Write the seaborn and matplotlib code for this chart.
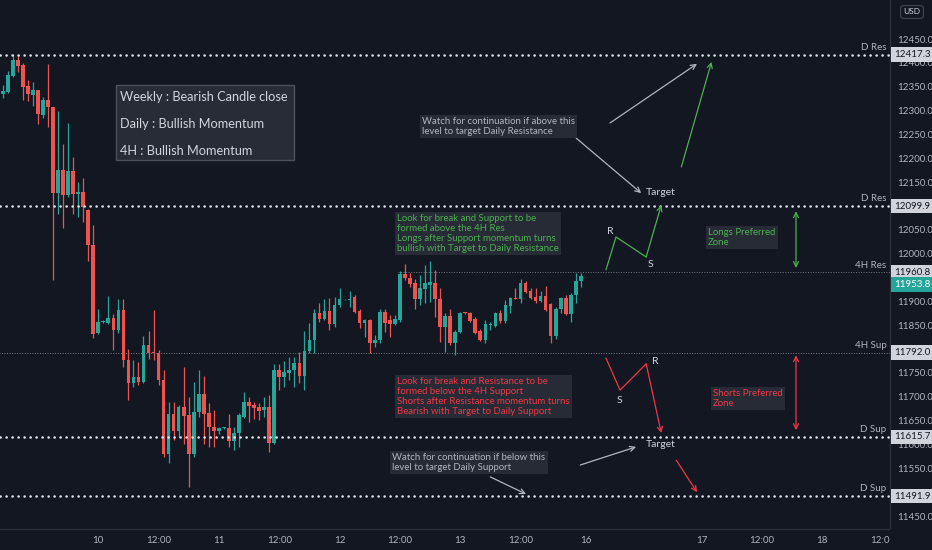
import numpy as np
import pandas as pd
import matplotlib
matplotlib.use('Agg')
import matplotlib.pyplot as plt
import seaborn as sns
from matplotlib.patches import Rectangle

# hourly candles
opens = [12335, 12339, 12372, 12407, 12395, 12351, 12333, 12343, 12291, 12322,
         12308, 12127, 12175, 12123, 12174, 12125, 12130, 12091, 12018, 11834,
         11856, 11855, 11866, 11840, 11882, 11777, 11729, 11741, 11732, 11808,
         11794, 11792, 11735, 11580, 11664, 11629, 11679, 11662, 11580, 11669,
         11706, 11665, 11637, 11629, 11634, 11634, 11608, 11625, 11658, 11690,
         11683, 11678, 11672, 11678, 11604, 11757, 11742, 11749, 11757, 11771,
         11743, 11796, 11819, 11875, 11864, 11880, 11853, 11892, 11904, 11903,
         11910, 11880, 11855, 11860, 11813, 11818, 11878, 11860, 11852, 11860,
         11957, 11950, 11939, 11904, 11925, 11935, 11939, 11906, 11847, 11869,
         11813, 11836, 11876, 11875, 11864, 11838, 11820, 11850, 11848, 11876,
         11859, 11890, 11908, 11904, 11939, 11922, 11910, 11901, 11911, 11894,
         11827, 11883, 11908, 11873, 11913, 11943]
highs = [12353, 12384, 12419, 12416, 12399, 12364, 12359, 12344, 12329, 12398,
         12308, 12299, 12230, 12273, 12202, 12151, 12158, 12093, 12060, 11883,
         11860, 11911, 11874, 11904, 11904, 11801, 11777, 11773, 11827, 11838,
         11882, 11798, 11757, 11690, 11690, 11683, 11763, 11700, 11732, 11756,
         11743, 11686, 11672, 11636, 11636, 11664, 11637, 11665, 11711, 11699,
         11690, 11686, 11700, 11704, 11769, 11769, 11776, 11783, 11784, 11794,
         11838, 11854, 11883, 11897, 11904, 11908, 11910, 11927, 11906, 11922,
         11913, 11885, 11864, 11864, 11829, 11885, 11885, 11871, 11871, 11964,
         11978, 11959, 11946, 11955, 11976, 11985, 11966, 11927, 11875, 11885,
         11840, 11878, 11877, 11878, 11868, 11843, 11861, 11857, 11878, 11882,
         11903, 11910, 11927, 11946, 11943, 11929, 11927, 11922, 11932, 11896,
         11889, 11910, 11913, 11917, 11960, 11959]
lows = [12326, 12337, 12371, 12381, 12322, 12321, 12309, 12272, 12284, 12265,
        11945, 12083, 12053, 12119, 12084, 12077, 12067, 11985, 11824, 11831,
        11855, 11853, 11799, 11833, 11763, 11694, 11721, 11725, 11728, 11780,
        11777, 11724, 11574, 11562, 11609, 11616, 11602, 11511, 11573, 11658,
        11602, 11595, 11595, 11623, 11632, 11595, 11588, 11595, 11655, 11648,
        11653, 11651, 11658, 11585, 11601, 11715, 11721, 11735, 11721, 11728,
        11714, 11791, 11791, 11857, 11861, 11840, 11847, 11889, 11902, 11889,
        11875, 11845, 11825, 11791, 11805, 11813, 11836, 11825, 11850, 11857,
        11945, 11931, 11885, 11892, 11896, 11899, 11868, 11815, 11794, 11808,
        11787, 11833, 11874, 11857, 11831, 11817, 11813, 11840, 11847, 11854,
        11854, 11875, 11904, 11897, 11917, 11904, 11897, 11899, 11880, 11812,
        11822, 11875, 11871, 11857, 11896, 11931]
closes = [12342, 12374, 12407, 12393, 12350, 12335, 12343, 12293, 12322, 12308,
          12127, 12175, 12123, 12174, 12125, 12130, 12098, 12018, 11832, 11857,
          11858, 11866, 11840, 11882, 11777, 11729, 11741, 11732, 11808, 11792,
          11791, 11735, 11580, 11664, 11629, 11679, 11660, 11580, 11669, 11706,
          11664, 11636, 11629, 11634, 11635, 11608, 11625, 11662, 11690, 11680,
          11676, 11671, 11678, 11604, 11757, 11742, 11752, 11757, 11771, 11743,
          11796, 11819, 11875, 11864, 11880, 11853, 11892, 11904, 11905, 11906,
          11878, 11855, 11860, 11813, 11819, 11878, 11855, 11852, 11864, 11957,
          11948, 11936, 11904, 11927, 11938, 11940, 11904, 11847, 11869, 11813,
          11836, 11876, 11875, 11859, 11834, 11820, 11852, 11853, 11876, 11859,
          11892, 11908, 11905, 11939, 11920, 11908, 11901, 11911, 11882, 11827,
          11883, 11908, 11873, 11913, 11943, 11953.8]

# time axis (bar index of each label)
tick_pos = [19, 31, 43, 55, 67, 79, 91, 103, 116, 139, 151, 163, 175]
tick_labels = ['10', '12:00', '11', '12:00', '12', '12:00', '13', '12:00',
               '16', '17', '12:00', '18', '12:00']

price_ticks = list(range(11450, 12501, 50))
hidden_ticks = [12500, 12100, 11950, 11800, 11500]  # covered by other labels

level_names = ['D Res', 'D Res', '4H Res', '4H Sup', 'D Sup', 'D Sup']
level_prices = [12417.3, 12099.9, 11960.8, 11792.0, 11615.7, 11491.9]
last_price = 11953.8

BG = '#131722'
UP = '#26a69a'
DOWN = '#ef5350'
TXT = '#b2b5be'
LIGHT = '#d1d4dc'
GREEN = '#4caf50'
RED = '#f23645'
BOX = '#2a2e39'

sns.set_theme(style='dark', rc={
    'axes.facecolor': BG, 'figure.facecolor': BG, 'savefig.facecolor': BG,
    'axes.edgecolor': BOX, 'axes.grid': False,
    'xtick.color': TXT, 'ytick.color': TXT, 'text.color': TXT,
})
plt.rcParams['font.family'] = ['Lato', 'DejaVu Sans']

df = pd.DataFrame({'bar': np.arange(len(opens)), 'open': opens, 'high': highs,
                   'low': lows, 'close': closes})
df['up'] = df['close'] >= df['open']
df['body_lo'] = df[['open', 'close']].min(axis=1)
df['body_h'] = (df['close'] - df['open']).abs().clip(lower=2)

fig = plt.figure(figsize=(9.32, 5.5), dpi=100)
ax = fig.add_axes([0, 21 / 550, 890 / 932, 529 / 550])

# wicks
ax.vlines(df['bar'], df['low'], df['high'],
          colors=np.where(df['up'], UP, DOWN), lw=0.9, zorder=1)
# bodies
for is_up, col in [(True, UP), (False, DOWN)]:
    sub = df[df['up'] == is_up]
    sns.barplot(x=sub['bar'], y=sub['body_h'], bottom=sub['body_lo'].values,
                native_scale=True, color=col, saturation=1, width=0.72,
                errorbar=None, linewidth=0, ax=ax, zorder=2)

# levels
for name, p in zip(level_names, level_prices):
    if name.startswith('D'):
        ax.axhline(p, color='#e0e3eb', lw=1.8, ls=(0, (0.1, 2.3)),
                   dash_capstyle='round', zorder=3)
    else:
        start = 78.6 if name == '4H Res' else -1
        ax.hlines(p, start, 180, color='#787b86', lw=0.7,
                  linestyles=(0, (1, 1.6)), zorder=3)
    ax.annotate(name, xy=(0.996, p), xycoords=ax.get_yaxis_transform(),
                xytext=(0, 2), textcoords='offset points', ha='right',
                va='bottom', fontsize=7, color=TXT)
    ax.annotate(f'{p:.1f}', xy=(1, p), xycoords=ax.get_yaxis_transform(),
                xytext=(3, 0), textcoords='offset points', ha='left',
                va='center', fontsize=7, color=BG, annotation_clip=False,
                bbox=dict(boxstyle='square,pad=0.3', fc=LIGHT, ec='none'))
ax.annotate(f'{last_price:.1f}', xy=(1, last_price),
            xycoords=ax.get_yaxis_transform(), xytext=(3, -6.5),
            textcoords='offset points', ha='left', va='center', fontsize=7,
            color='white', annotation_clip=False,
            bbox=dict(boxstyle='square,pad=0.3', fc=UP, ec='none'))

# info box
ax.add_patch(Rectangle((22.5, 12196), 35.5, 157.5, fc=BOX, ec='#50535e',
                       lw=1, alpha=0.95, zorder=4))
for txt, p in [('Weekly : Bearish Candle close', 12328),
               ('Daily : Bullish Momentum', 12272),
               ('4H : Bullish Momentum', 12215)]:
    ax.text(23.3, p, txt, fontsize=9.2, color=LIGHT, va='center', zorder=5)

note = dict(fontsize=6.9, linespacing=1.12, va='top', ha='left', zorder=5,
            bbox=dict(boxstyle='square,pad=0.25', fc=BOX, ec='none', alpha=0.9))
ax.text(83.4, 12286, 'Watch for continuation if above this\nlevel to target Daily Resistance',
        color=TXT, **note)
ax.text(78.5, 12083, 'Look for break and Support to be\nformed above the 4H Res\n'
        'Longs after Support momentum turns\nbullish with Target to Daily Resistance',
        color=GREEN, **note)
ax.text(78.5, 11741, 'Look for break and Resistance to be\nformed below the 4H Support\n'
        'Shorts after Resistance momentum turns\nBearish with Target to Daily Support',
        color=RED, **note)
ax.text(77.5, 11582, 'Watch for continuation if below this\nlevel to target Daily Support',
        color=TXT, **note)
ax.text(140.3, 12054, 'Longs Preferred\nZone', color=GREEN, **note)
ax.text(141.3, 11716, 'Shorts Preferred\nZone', color=RED, **note)


def arrow(start, end, color, style='->'):
    ax.annotate('', xy=end, xytext=start,
                arrowprops=dict(arrowstyle=style, color=color, lw=0.9,
                                shrinkA=0, shrinkB=0, mutation_scale=9))


arrow((114.1, 12242), (127.0, 12127), TXT)
arrow((120.8, 12274), (138.1, 12398), TXT)
arrow((135.0, 12182), (141.0, 12402), GREEN)
ax.plot([120.0, 122.0, 128.0], [11966, 12035, 11993], color=GREEN, lw=0.9)
arrow((128.0, 11993), (131.0, 12102), GREEN)
ax.plot([120.0, 122.8, 128.0], [11781, 11714, 11769], color=RED, lw=0.9)
arrow((128.0, 11769), (131.0, 11624), RED)
arrow((114.9, 11557), (126.0, 11595), TXT)
arrow((134.0, 11567), (138.1, 11500), RED)
arrow((97.0, 11532), (104.1, 11496), TXT)
arrow((157.8, 11970), (157.8, 12089), GREEN, '<->')
arrow((157.8, 11630), (157.8, 11787), RED, '<->')

for txt, x, p in [('Target', 130.8, 12129), ('Target', 130.8, 11599),
                  ('R', 120.8, 12047), ('S', 128.8, 11978),
                  ('S', 122.6, 11693), ('R', 129.8, 11773)]:
    ax.text(x, p, txt, fontsize=7.5, color=LIGHT, ha='center', va='center')

# axes
ax.set_xlim(-0.54, 176.5)
ax.set_ylim(11422.8, 12531.8)
ax.set_xticks(tick_pos, tick_labels)
ax.yaxis.tick_right()
ax.set_yticks(price_ticks, ['' if v in hidden_ticks else f'{v:.1f}'
                            for v in price_ticks])
ax.tick_params(axis='x', length=0, pad=5, labelsize=7, labelcolor=TXT)
ax.tick_params(axis='y', length=0, pad=5, labelsize=7, labelcolor=TXT)
ax.set_xlabel('')
ax.set_ylabel('')
for side in ['left', 'top']:
    ax.spines[side].set_visible(False)
for side in ['right', 'bottom']:
    ax.spines[side].set_color(BOX)
    ax.spines[side].set_linewidth(1)

fig.add_artist(Rectangle((890 / 932, 0), 42 / 932, 21 / 550,
                         transform=fig.transFigure, fc=BG, ec='none', zorder=10))
fig.text(912 / 932, 1 - 12 / 550, 'USD', ha='center', va='center', fontsize=6,
         color=LIGHT, zorder=11,
         bbox=dict(boxstyle='round,pad=0.35', fc=BG, ec='#434651', lw=0.8))

fig.savefig('out.png', dpi=100, facecolor=BG)
